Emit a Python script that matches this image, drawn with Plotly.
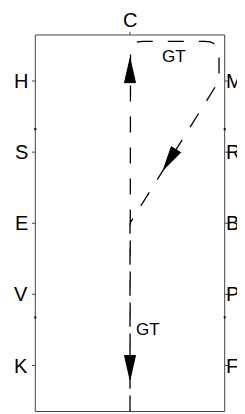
import numpy as np
import plotly.graph_objects as go

# ---------------- data ----------------
arena_w = 20
arena_l = 60
left_letters = ["H", "S", "E", "V", "K"]
right_letters = ["M", "R", "B", "P", "F"]
letter_y = [52.67, 41.33, 30.0, 18.67, 7.33]
top_letter = "C"
dot_y = [45, 15]

# test path waypoints (metres)
path_x = [10, 10, 19.4, 19.4, 10, 10]
path_y = [0, 59, 59, 52.7, 30, 0]
path_round = [0, 1, 1, 0, 0, 0]          # rounded corner at waypoint

# arrowheads: segment index and fraction along the segment (tip)
arrow_seg = [0, 3, 4]
arrow_frac = [0.953, 0.626, 0.83]

gait_labels = ["GT", "GT"]
gait_x = [14.65, 11.93]
gait_y = [56.65, 12.99]

# ---------------- layout geometry ----------------
# page body has an 8px margin; the figure div fills the rest of the window
W, H = 237, 406
SX, SY = 9.47, 6.275            # px per metre (x, y)
XR = [-27.3 / SX, -27.3 / SX + W / SX]
YR = [60 + 27 / SY - H / SY, 60 + 27 / SY]
sx = W / (XR[1] - XR[0])
sy = H / (YR[1] - YR[0])

def to_px(x, y):
    return np.array([x * sx, -y * sy])

def to_data(p):
    return p[0] / sx, -p[1] / sy

# build path with rounded corners in pixel space
R = [0, 13.0, 14.0, 0, 0, 0]
pts = [to_px(x, y) for x, y in zip(path_x, path_y)]
px_list = []
for i, p in enumerate(pts):
    if path_round[i] and 0 < i < len(pts) - 1:
        din = (p - pts[i - 1]) / np.linalg.norm(p - pts[i - 1])
        dout = (pts[i + 1] - p) / np.linalg.norm(pts[i + 1] - p)
        a = p - R[i] * din
        b = p + R[i] * dout
        for t in np.linspace(0, 1, 16):
            px_list.append((1 - t) ** 2 * a + 2 * (1 - t) * t * p + t ** 2 * b)
    else:
        px_list.append(p)
line_x, line_y = zip(*[to_data(p) for p in px_list])

fig = go.Figure()

# arena outline
fig.add_shape(type="rect", x0=0, y0=0, x1=arena_w, y1=arena_l,
              line=dict(color="#444", width=1), layer="below")

# letter ticks
tx, ty = [], []
tick = 3.2
for y in letter_y:
    tx += [-tick / sx, 0, None, arena_w, arena_w + tick / sx, None]
    ty += [y, y, None, y, y, None]
tx += [arena_w / 2, arena_w / 2, None]
ty += [arena_l, arena_l + tick / sy, None]
fig.add_trace(go.Scatter(x=tx, y=ty, mode="lines",
                         line=dict(color="#444", width=1), hoverinfo="skip"))

# dots
fig.add_trace(go.Scatter(x=[0, 0, arena_w, arena_w], y=dot_y + dot_y, mode="markers",
                         marker=dict(symbol="square", size=2, color="#000"),
                         hoverinfo="skip"))

# test path
fig.add_trace(go.Scatter(x=line_x, y=line_y, mode="lines",
                         line=dict(color="#000", width=1.3, dash="16px,15px"),
                         hoverinfo="skip"))

# arrowheads
L, Wd = 24.0, 11.0
for s, f in zip(arrow_seg, arrow_frac):
    p0 = to_px(path_x[s], path_y[s])
    p1 = to_px(path_x[s + 1], path_y[s + 1])
    d = (p1 - p0) / np.linalg.norm(p1 - p0)
    n = np.array([-d[1], d[0]])
    tip = p0 + f * (p1 - p0)
    base = tip - L * d
    poly = [tip, base + n * Wd / 2, base - n * Wd / 2, tip]
    ax, ay = zip(*[to_data(q) for q in poly])
    fig.add_trace(go.Scatter(x=ax, y=ay, mode="lines", fill="toself",
                             fillcolor="#000", line=dict(color="#000", width=1),
                             hoverinfo="skip"))

FAM = "Liberation Sans, Arial, sans-serif"
font = dict(family=FAM, size=20, color="#000")
ann = []
for t, y in zip(left_letters, letter_y):
    ann.append(dict(x=0, y=y, text=t, showarrow=False, xanchor="right",
                    yanchor="middle", xshift=-5, font=font))
for t, y in zip(right_letters, letter_y):
    ann.append(dict(x=arena_w, y=y, text=t, showarrow=False, xanchor="left",
                    yanchor="middle", xshift=-1, font=font))
ann.append(dict(x=arena_w / 2, y=arena_l, text=top_letter, showarrow=False,
                xanchor="center", yanchor="bottom", yshift=2, font=font))
for t, x, y in zip(gait_labels, gait_x, gait_y):
    ann.append(dict(x=x, y=y, text=t, showarrow=False, xanchor="center",
                    yanchor="middle", font=dict(family=FAM, size=17, color="#000")))

fig.update_layout(
    width=W, height=H, margin=dict(l=0, r=0, t=0, b=0),
    paper_bgcolor="white", plot_bgcolor="white", showlegend=False,
    xaxis=dict(range=XR, visible=False, fixedrange=True),
    yaxis=dict(range=YR, visible=False, fixedrange=True),
    annotations=ann,
)

fig.write_html("out.html")
